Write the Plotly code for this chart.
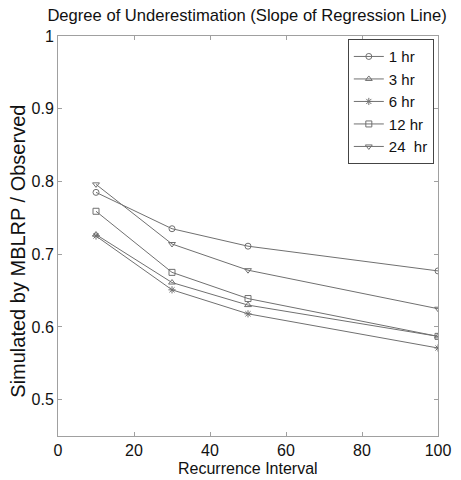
import plotly.graph_objects as go

intervals = [10, 30, 50, 100]
series_names = ["1 hr", "3 hr", "6 hr", "12 hr", "24  hr"]
v_1hr = [0.785, 0.735, 0.711, 0.677]
v_3hr = [0.727, 0.661, 0.630, 0.587]
v_6hr = [0.725, 0.651, 0.618, 0.571]
v_12hr = [0.759, 0.675, 0.639, 0.587]
v_24hr = [0.796, 0.714, 0.678, 0.625]
values = [v_1hr, v_3hr, v_6hr, v_12hr, v_24hr]
symbols = ["circle-open", "triangle-up-open", "asterisk-open", "square-open", "triangle-down-open"]
x_title = "Recurrence Interval"
y_title = "Simulated by MBLRP / Observed"

FONT = "Liberation Sans, Arial, sans-serif"
COL = "#707070"
fig = go.Figure()
for name, vals, sym in zip(series_names, values, symbols):
    fig.add_trace(go.Scatter(
        x=intervals, y=vals, name=name, mode="lines+markers",
        line=dict(color=COL, width=1),
        marker=dict(symbol=sym, size=6, color=COL, line=dict(width=1, color=COL)),
    ))

axis_common = dict(showline=True, linecolor="#a0a0a0", linewidth=1, mirror="ticks",
                   ticks="inside", ticklen=4, tickcolor="#a0a0a0", showgrid=False,
                   zeroline=False, automargin=False, tickfont=dict(size=16, color="#111", family=FONT))
fig.update_xaxes(range=[0, 100], tickvals=[0, 20, 40, 60, 80, 100], **axis_common)
fig.update_yaxes(range=[0.45, 1], tickvals=[0.5, 0.6, 0.7, 0.8, 0.9, 1],
                 ticktext=["0.5", "0.6", "0.7", "0.8", "0.9", "1"], **axis_common)
fig.add_annotation(text=x_title, xref="paper", yref="paper", x=0.5, y=-0.1075, xanchor="center", yanchor="bottom",
                   showarrow=False, font=dict(size=16, color="#111", family=FONT))
fig.add_annotation(text=y_title, xref="paper", yref="paper", x=-0.105, y=0.461, xanchor="center", yanchor="middle",
                   textangle=-90, showarrow=False, font=dict(size=20, color="#111", family=FONT))
fig.update_layout(
    width=461, height=480,
    margin=dict(l=58, r=23, t=36, b=44, autoexpand=False),
    paper_bgcolor="white", plot_bgcolor="white",
    title=dict(text="Degree of Underestimation (Slope of Regression Line)", x=0.536, xanchor="center",
               y=0.969, yanchor="middle", font=dict(size=16.6, color="#111", family=FONT)),
    legend=dict(x=0.989, xanchor="right", y=0.992, yanchor="top", bordercolor="#444", borderwidth=1,
                bgcolor="white", font=dict(size=15, color="#111", family=FONT), itemwidth=30,
                tracegroupgap=0, traceorder="normal"),
    showlegend=True,
)
fig.write_html("out.html")
